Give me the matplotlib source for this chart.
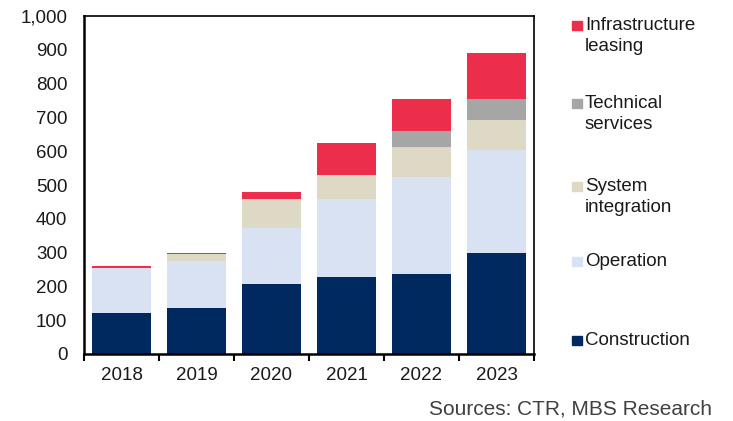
import numpy as np
import matplotlib.pyplot as plt
from matplotlib.patches import Rectangle

plt.rcParams["font.family"] = ["Liberation Sans", "DejaVu Sans"]
plt.rcParams["font.size"] = 13.5

# revenue by segment
years = ["2018", "2019", "2020", "2021", "2022", "2023"]
construction = [122, 137, 206, 229, 237, 298]
operation = [133, 138, 168, 231, 288, 306]
system_integration = [0, 20, 85, 71, 88, 89]
technical_services = [0, 0, 0, 0, 48, 62]
infrastructure_leasing = [4, 4, 19, 94, 94, 135]

series = [
    ("Construction", construction, "#002960"),
    ("Operation", operation, "#D9E2F3"),
    ("System\nintegration", system_integration, "#DDD9C4"),
    ("Technical\nservices", technical_services, "#A6A6A6"),
    ("Infrastructure\nleasing", infrastructure_leasing, "#EC2D4C"),
]

fig = plt.figure(figsize=(7.33, 4.21), dpi=100)
W, H = 733, 421
ax = fig.add_axes([84 / W, 1 - 354 / H, 450 / W, 338 / H])

x = np.arange(len(years))
bottom = np.zeros(len(years))
for name, vals, col in series:
    vals = np.array(vals, dtype=float)
    ax.bar(x, vals, width=0.78, bottom=bottom, color=col, edgecolor="none")
    bottom += vals

ax.set_xlim(-0.5, len(years) - 0.5)
ax.set_ylim(0, 1000)
ax.set_yticks(np.arange(0, 1001, 100))
ax.set_yticklabels([f"{v:,}" for v in range(0, 1001, 100)])
ax.set_xticks(x)
ax.set_xticklabels(years)
ax.set_xticks(np.arange(-0.5, len(years), 1), minor=True)
ax.tick_params(axis="x", which="major", length=0, pad=9)
ax.tick_params(axis="x", which="minor", length=5, width=1.5, direction="out")
ax.tick_params(axis="y", length=0, pad=12)
ax.tick_params(colors="#1a1a1a", labelsize=13.5)
for s in ["left", "bottom"]:
    ax.spines[s].set_linewidth(1.8)
for s in ["top", "right"]:
    ax.spines[s].set_linewidth(1.2)

# legend drawn by hand on the right
legend_y = {"Construction": 340.5, "Operation": 261.5, "System\nintegration": 186.5,
            "Technical\nservices": 103.5, "Infrastructure\nleasing": 25.5}
for name, vals, col in series:
    yc = legend_y[name]
    fig.patches.append(Rectangle((572 / W, 1 - (yc + 4.5) / H), 9.5 / W, 9.5 / H,
                                 transform=fig.transFigure, color=col))
    for i, line in enumerate(name.split("\n")):
        fig.text(585 / W, 1 - (yc + 21 * i) / H, line, ha="left", va="center",
                 fontsize=13.5, color="#1a1a1a")

fig.text(712 / W, 1 - 409 / H, "Sources: CTR, MBS Research", ha="right",
         va="center", fontsize=15, color="#404040")

fig.savefig("out.png", dpi=100)
